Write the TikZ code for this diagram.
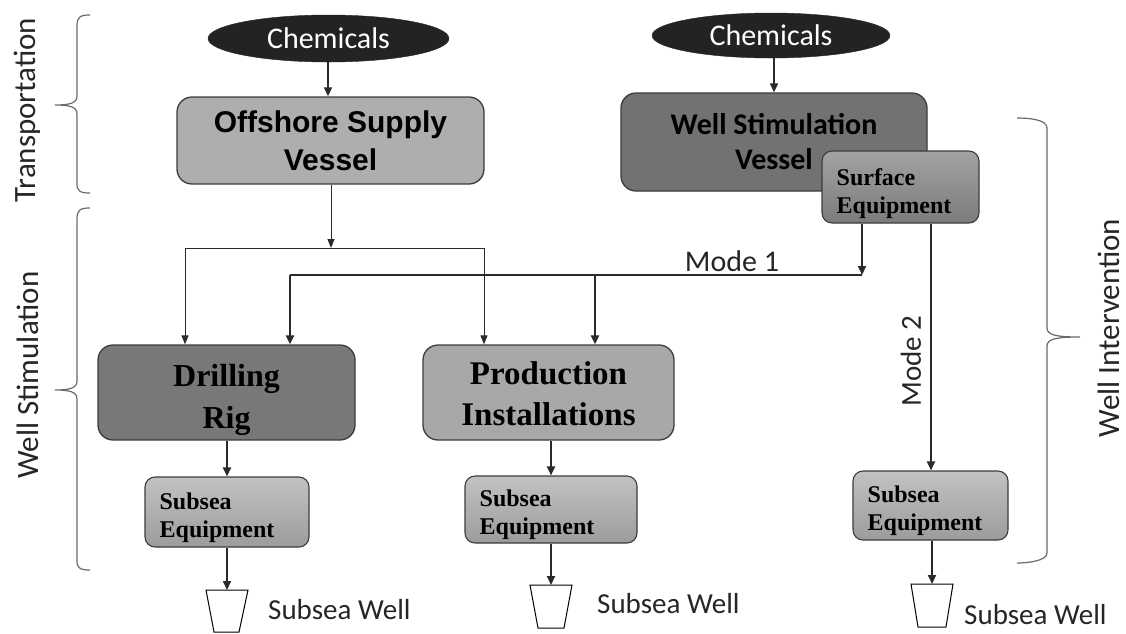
\documentclass[tikz,border=0pt]{standalone}
\usepackage{fontspec}
\setmainfont{Liberation Serif}
\newfontfamily\calibri{Carlito}
\newfontfamily\arialf{Liberation Sans}
\usetikzlibrary{arrows.meta,shapes.geometric}

\definecolor{inkdark}{HTML}{232323}
\definecolor{edgegray}{HTML}{3C3C3C}
\definecolor{osvgray}{HTML}{AEAEAE}
\definecolor{wsvgray}{HTML}{727272}
\definecolor{riggray}{HTML}{787878}
\definecolor{prodgray}{HTML}{A8A8A8}
\definecolor{surftop}{HTML}{A2A2A2}
\definecolor{surfbot}{HTML}{7C7C7C}
\definecolor{subtop}{HTML}{C2C2C2}
\definecolor{subbot}{HTML}{9C9C9C}
\definecolor{linegray}{HTML}{2A2A2A}
\definecolor{bracegray}{HTML}{6A6A6A}

\begin{document}
\begin{tikzpicture}[x=1pt,y=-1pt,
  bigbox/.style={draw=edgegray, line width=1.3pt, rounded corners=15pt, align=center, inner sep=0pt},
  bigtext/.style={align=center, inner sep=0pt, font=\bfseries\fontsize{32}{42}\selectfont},
  eqbox/.style={draw=edgegray, line width=1.1pt, rounded corners=10pt, inner sep=0pt,
    top color=subtop, bottom color=subbot},
  eqtext/.style={align=left, inner sep=0pt, anchor=west,
    font=\bfseries\fontsize{24}{28}\selectfont},
  chem/.style={ellipse, fill=inkdark, draw=inkdark, text=white, inner sep=0pt,
    font=\calibri\fontsize{30}{32}\selectfont},
  feed/.style={draw=linegray, line width=1.5pt, -{Triangle[length=9pt,width=8pt]}},
  thinline/.style={draw=linegray, line width=1pt},
  thinarrow/.style={thinline, -{Triangle[length=9pt,width=7pt]}},
  mainline/.style={draw=linegray, line width=2.4pt},
  mainarrow/.style={mainline, -{Triangle[length=9pt,width=8pt]}},
  downarrow/.style={draw=linegray, line width=2pt, -{Triangle[length=9pt,width=8pt]}},
  bracket/.style={draw=bracegray, line width=1.2pt},
  lbl/.style={font=\calibri\fontsize{31}{33}\selectfont, inner sep=0pt, text=black!85},
  welltxt/.style={font=\calibri\fontsize{29}{31}\selectfont, inner sep=0pt, anchor=west, text=black!85},
  wellcup/.style={draw=black, line width=1pt, fill=white}
]
\useasboundingbox (0,0) rectangle (1126,633);

% ---- side braces and their labels ----
\draw[bracket] (90,15) .. controls (80,15) and (77,17) .. (77,26) -- (77,96)
  .. controls (77,103) and (70,105) .. (55,105)
  .. controls (70,105) and (77,107) .. (77,114) -- (77,184)
  .. controls (77,191) and (80,193) .. (90,193);
\node[lbl, rotate=90] (tlabel) at (27,110) {Transportation};

\draw[bracket] (90,208) .. controls (80,208) and (77,210) .. (77,219) -- (77,381)
  .. controls (77,388) and (70,390) .. (55,390)
  .. controls (70,390) and (77,392) .. (77,399) -- (77,561)
  .. controls (77,568) and (80,570) .. (90,570);
\node[lbl, rotate=90] (slabel) at (28,375) {Well Stimulation};

\draw[bracket] (1017,118) .. controls (1027,118) and (1047,119) .. (1047,128) -- (1047,328)
  .. controls (1047,335) and (1056,337) .. (1080,337)
  .. controls (1056,337) and (1047,339) .. (1047,346) -- (1047,553)
  .. controls (1047,561) and (1027,563) .. (1017,563);
\node[lbl, rotate=90] (ilabel) at (1109,328) {Well Intervention};

% ---- chemical sources ----
\node[chem, minimum width=241pt, minimum height=47pt] (chemA) at (328.5,38.5) {Chemicals};
\node[chem, minimum width=238pt, minimum height=45pt] (chemB) at (771,35.5) {Chemicals};

% ---- vessels ----
\node[bigbox, fill=osvgray, minimum width=307pt, minimum height=87pt,
  font=\arialf\bfseries\fontsize{30}{38}\selectfont] (osv) at (330.5,140.5) {Offshore Supply\\Vessel};
\node[bigbox, fill=wsvgray, minimum width=306pt, minimum height=98pt,
  font=\calibri\bfseries\fontsize{30}{35}\selectfont] (wsv) at (774,142) {Well Stimulation\\Vessel};
\node[eqbox, top color=surftop, bottom color=surfbot, minimum width=157pt, minimum height=72pt] (surf) at (900.5,187) {};
\node[eqtext] (surft) at ([xshift=15pt,yshift=-7pt]surf.west) {Surface\\Equipment};

% ---- installations ----
\node[bigbox, fill=riggray, minimum width=257pt, minimum height=95pt] (rig) at (226.5,392.5) {};
\node[bigtext] (rigt) at ([yshift=-7pt]rig.center) {Drilling\\Rig};
\node[bigbox, fill=prodgray, minimum width=251pt, minimum height=95pt] (prod) at (548.5,392.5) {};
\node[bigtext, font=\bfseries\fontsize{33}{41}\selectfont] (prodt) at ([yshift=-1pt]prod.center) {Production\\Installations};

% ---- subsea equipment ----
\node[eqbox, minimum width=164pt, minimum height=70pt] (seA) at (227,512) {};
\node[eqtext] (seAt) at ([xshift=15pt,yshift=-6pt]seA.west) {Subsea\\Equipment};
\node[eqbox, minimum width=172pt, minimum height=67pt] (seB) at (551,509.5) {};
\node[eqtext] (seBt) at ([xshift=15pt,yshift=-5pt]seB.west) {Subsea\\Equipment};
\node[eqbox, minimum width=155pt, minimum height=69pt] (seC) at (930.5,505.5) {};
\node[eqtext] (seCt) at ([xshift=15pt,yshift=-5pt]seC.west) {Subsea\\Equipment};

% ---- subsea wells ----
\draw[wellcup] (206,590) -- (248,590) -- (239,632) -- (214,632) -- cycle;
\coordinate (wellA) at (227,590);
\node[welltxt] (wtA) at (268,610) {Subsea Well};
\draw[wellcup] (530,585) -- (572,585) -- (564,628) -- (538,628) -- cycle;
\coordinate (wellB) at (551,585);
\node[welltxt] (wtB) at (597,604) {Subsea Well};
\draw[wellcup] (911,584) -- (953,584) -- (946,627) -- (918,627) -- cycle;
\coordinate (wellC) at (932,584);
\node[welltxt] (wtC) at (964,615) {Subsea Well};

% ---- supply to the vessels ----
\draw[feed] (chemA.south -| 328,0) -- (osv.north -| 328,0);
\draw[feed] (chemB.south -| 774,0) -- (wsv.north -| 774,0);

% ---- supply vessel distribution (thin lines) ----
\coordinate (jA) at (331,248);
\coordinate (jAl) at (185,248);
\coordinate (jAr) at (484,248);
\draw[thinarrow] (osv.south -| jA) -- (jA);
\draw[thinline] (jAl) -- (jAr);
\draw[thinarrow] (jAl) -- (rig.north -| jAl);
\draw[thinarrow] (jAr) -- (prod.north -| jAr);

% ---- Mode 1 (thick lines) ----
\coordinate (jB) at (862,275);
\coordinate (jBl) at (290,275);
\coordinate (jBm) at (595,275);
\draw[mainarrow, line width=2pt] (surf.south -| jB) -- (jB);
\draw[mainline] (jBl) -- (jB);
\draw[mainarrow] (jBl) -- (rig.north -| jBl);
\draw[mainarrow] (jBm) -- (prod.north -| jBm);
\node[lbl, font=\calibri\fontsize{30}{32}\selectfont] (m1) at (732,261) {Mode 1};

% ---- Mode 2 ----
\coordinate (jC) at (931,0);
\draw[downarrow, line width=1.8pt] (surf.south -| jC) -- (seC.north -| jC);
\node[lbl, rotate=90, font=\calibri\fontsize{29}{31}\selectfont] (m2) at (911,361) {Mode 2};

% ---- down to the wells ----
\draw[downarrow] (rig.south -| seA) -- (seA.north);
\draw[downarrow] (seA.south) -- (wellA);
\draw[downarrow] (prod.south -| seB) -- (seB.north);
\draw[downarrow] (seB.south) -- (wellB);
\draw[downarrow] (seC.south -| wellC) -- (wellC);
\end{tikzpicture}
\end{document}
